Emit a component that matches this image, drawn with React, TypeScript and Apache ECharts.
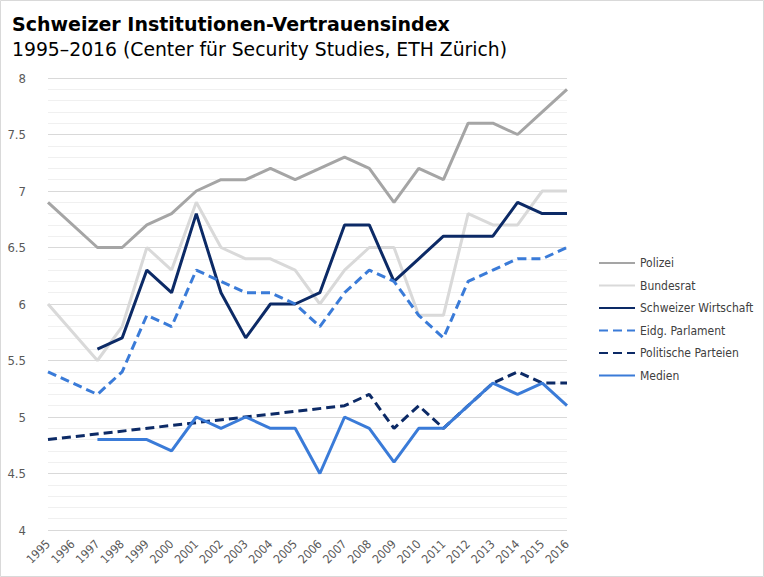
import React, { useEffect, useRef } from "react";
import * as echarts from "echarts";

const years = ["1995","1996","1997","1998","1999","2000","2001","2002","2003","2004","2005","2006","2007","2008","2009","2010","2011","2012","2013","2014","2015","2016"];

const polizei = [6.9, null, 6.5, 6.5, 6.7, 6.8, 7.0, 7.1, 7.1, 7.2, 7.1, 7.2, 7.3, 7.2, 6.9, 7.2, 7.1, 7.6, 7.6, 7.5, 7.7, 7.9];
const bundesrat = [6.0, null, 5.5, 5.8, 6.5, 6.3, 6.9, 6.5, 6.4, 6.4, 6.3, 6.0, 6.3, 6.5, 6.5, 5.9, 5.9, 6.8, 6.7, 6.7, 7.0, 7.0];
const wirtschaft = [null, null, 5.6, 5.7, 6.3, 6.1, 6.8, 6.1, 5.7, 6.0, 6.0, 6.1, 6.7, 6.7, 6.2, 6.4, 6.6, 6.6, 6.6, 6.9, 6.8, 6.8];
const parlament = [5.4, null, 5.2, 5.4, 5.9, 5.8, 6.3, 6.2, 6.1, 6.1, 6.0, 5.8, 6.1, 6.3, 6.2, 5.9, 5.7, 6.2, 6.3, 6.4, 6.4, 6.5];
const parteien = [4.8, null, null, null, null, null, null, null, null, null, null, null, 5.1, 5.2, 4.9, 5.1, 4.9, 5.1, 5.3, 5.4, 5.3, 5.3];
const medien = [null, null, 4.8, 4.8, 4.8, 4.7, 5.0, 4.9, 5.0, 4.9, 4.9, 4.5, 5.0, 4.9, 4.6, 4.9, 4.9, 5.1, 5.3, 5.2, 5.3, 5.1];

const FONT = "DejaVu Sans";
const FONT_C = "'DejaVu Sans Condensed', 'DejaVu Sans', sans-serif";

export default function App() {
  const ref = useRef<HTMLDivElement>(null);
  useEffect(() => {
    document.body.style.margin = "0";
    const chart = echarts.init(ref.current!, null, { renderer: "svg" });
    const mk = (name: string, data: (number | null)[], color: string, dashed: boolean) => ({
      name,
      type: "line",
      data,
      connectNulls: true,
      symbol: "none",
      lineStyle: { color, width: 3, type: dashed ? [9, 5] : "solid", cap: "butt" },
      itemStyle: { color },
    });
    chart.setOption({
      animation: false,
      backgroundColor: "#ffffff",
      textStyle: { fontFamily: FONT },
      title: [
        { text: "Schweizer Institutionen-Vertrauensindex", left: 7, top: 9, textStyle: { fontFamily: FONT, fontSize: 19, fontWeight: "bold", color: "#000" } },
        { text: "1995–2016 (Center für Security Studies, ETH Zürich)", left: 7, top: 35, textStyle: { fontFamily: FONT, fontSize: 18.8, fontWeight: "normal", color: "#000" } },
      ],
      graphic: [
        { type: "rect", shape: { x: 0.5, y: 0.5, width: 763, height: 576 }, style: { fill: "none", stroke: "#D9D9D9", lineWidth: 1 }, silent: true },
      ],
      legend: {
        orient: "vertical",
        left: 598,
        top: 257,
        padding: 0,
        itemWidth: 36,
        itemHeight: 14,
        itemGap: 10.5,
        itemStyle: { opacity: 0 },
        textStyle: { fontFamily: FONT_C, fontSize: 12, color: "#404040" },
        data: ["Polizei", "Bundesrat", "Schweizer Wirtschaft", "Eidg. Parlament", "Politische Parteien", "Medien"],
      },
      grid: { left: 48, right: 197, top: 78, bottom: 47, containLabel: false },
      xAxis: {
        type: "category",
        data: years,
        boundaryGap: false,
        axisLine: { show: false },
        axisTick: { show: false },
        axisLabel: { rotate: 45, color: "#595959", fontSize: 12, fontFamily: FONT_C, margin: 12, interval: 0 },
      },
      yAxis: {
        type: "value",
        min: 4,
        max: 8,
        interval: 0.5,
        axisLine: { show: false },
        axisTick: { show: false },
        axisLabel: { color: "#595959", fontSize: 13, fontFamily: FONT_C, margin: 22 },
        splitLine: { lineStyle: { color: "#D9D9D9", width: 1 } },
        minorTick: { show: false, splitNumber: 5 },
        minorSplitLine: { show: true, lineStyle: { color: "#F0F0F0", width: 1 } },
      },
      series: [
        mk("Polizei", polizei, "#A5A5A5", false),
        mk("Bundesrat", bundesrat, "#D9D9D9", false),
        mk("Schweizer Wirtschaft", wirtschaft, "#0C2A66", false),
        mk("Eidg. Parlament", parlament, "#3A7BD8", true),
        mk("Politische Parteien", parteien, "#0C2A66", true),
        mk("Medien", medien, "#3A7BD8", false),
      ],
    });
    return () => chart.dispose();
  }, []);
  return <div ref={ref} style={{ width: 764, height: 577 }} />;
}
